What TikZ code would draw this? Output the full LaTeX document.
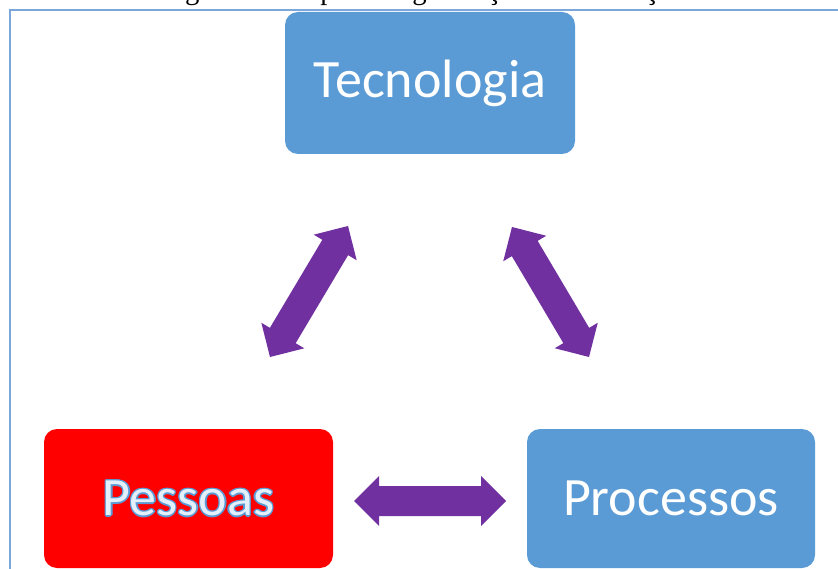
\documentclass[tikz,border=0pt]{standalone}
\usepackage{fontspec}
\setmainfont{Liberation Serif}
\newfontfamily\boxfont{Carlito}
\usetikzlibrary{calc}

\definecolor{boxblue}{HTML}{5B9BD5}
\definecolor{frameblue}{HTML}{7BA7DA}
\definecolor{linkpurple}{HTML}{7030A0}
\definecolor{alertred}{HTML}{FF0000}
\definecolor{paleblue}{HTML}{E3EFFA}

\tikzset{
  card/.style={rounded corners=13pt, draw=none, inner sep=0pt},
  bluecard/.style={card, fill=boxblue},
  redcard/.style={card, fill=alertred},
  cardtext/.style={font=\boxfont\fontsize{54}{60}\selectfont, inner sep=0pt},
  linkfill/.style={fill=linkpurple},
  frameline/.style={draw=frameblue, line width=2pt},
}

% one shifted copy of a word in the outline colour
\newcommand\edgecopy[3]{\rlap{\kern#1\raisebox{#2}{\textcolor{boxblue}{#3}}}}
% word with a thin blue outline and a pale fill
\newcommand\outlinedword[1]{%
  \edgecopy{1.4pt}{0pt}{#1}\edgecopy{-1.4pt}{0pt}{#1}%
  \edgecopy{0pt}{1.4pt}{#1}\edgecopy{0pt}{-1.4pt}{#1}%
  \edgecopy{1pt}{1pt}{#1}\edgecopy{-1pt}{1pt}{#1}%
  \edgecopy{1pt}{-1pt}{#1}\edgecopy{-1pt}{-1pt}{#1}%
  \textcolor{paleblue}{#1}}

% block double-headed arrow between two named points
\newcommand\twoway[2]{%
  \fill[linkfill] (#1)
    -- ($(#1)!25pt!(#2)!25pt!90:(#2)$)
    -- ($(#1)!25pt!(#2)!15pt!90:(#2)$)
    -- ($(#2)!25pt!(#1)!15pt!-90:(#1)$)
    -- ($(#2)!25pt!(#1)!25pt!-90:(#1)$)
    -- (#2)
    -- ($(#2)!25pt!(#1)!25pt!90:(#1)$)
    -- ($(#2)!25pt!(#1)!15pt!90:(#1)$)
    -- ($(#1)!25pt!(#2)!15pt!-90:(#2)$)
    -- ($(#1)!25pt!(#2)!25pt!-90:(#2)$)
    -- cycle;}

\begin{document}
\begin{tikzpicture}[x=1pt, y=-1pt]
  \useasboundingbox (0,0) rectangle (838,569);
  \clip (0,0) rectangle (838,569);

  % caption line of the page, above the frame
  \node[anchor=base west, inner sep=0pt, font=\fontsize{28.7}{30}\selectfont] (caption)
    at (161,-0.3) {Figura 1 – Tripé da organização e informação};

  % frame
  \draw[frameline] (10,572) -- (10,10) -- (842,10);

  % boxes
  \node[bluecard, minimum width=290pt, minimum height=142pt] (tec) at (430,83) {};
  \node[redcard, minimum width=289pt, minimum height=139pt] (pes) at (188.5,498.5) {};
  \node[bluecard, minimum width=288pt, minimum height=139pt] (pro) at (671,498.5) {};

  % labels
  \node[cardtext, text=white] (tectxt) at (tec.center) {Tecnologia};
  \node[cardtext, text=white] (protxt) at (pro.center) {Processos};
  \node[cardtext] (pestxt) at (pes.center) {\outlinedword{Pessoas}};

  % arrow end points
  \coordinate (tecL) at (348,226);
  \coordinate (pesT) at (270,357);
  \coordinate (tecR) at (512,227);
  \coordinate (proT) at (589,357);
  \coordinate (pesR) at (354,501);
  \coordinate (proL) at (506,501);

  % links
  \twoway{tecL}{pesT}
  \twoway{tecR}{proT}
  \twoway{pesR}{proL}
\end{tikzpicture}
\end{document}
